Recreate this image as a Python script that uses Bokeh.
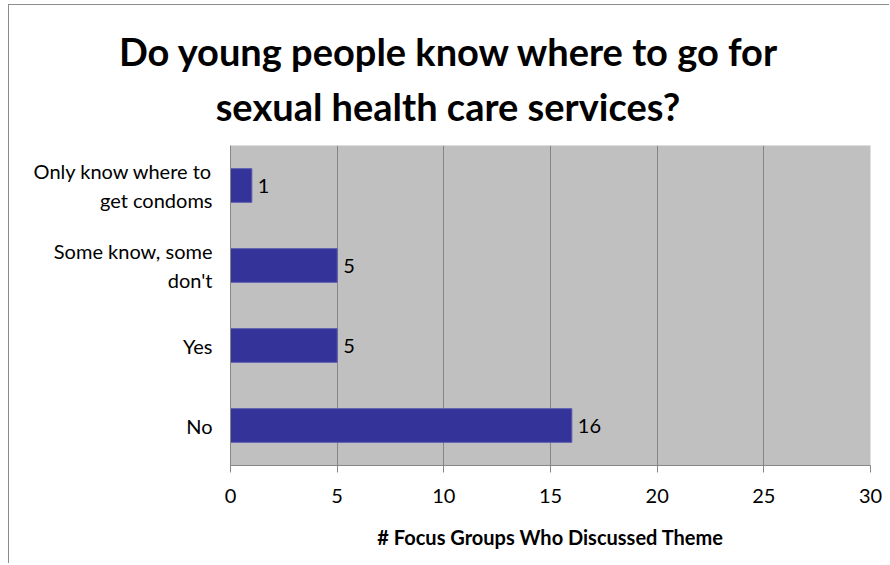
from bokeh.plotting import figure
from bokeh.layouts import column
from bokeh.models import (FactorRange, Range1d, FixedTicker, ColumnDataSource,
                          LabelSet, Div)
from bokeh.core.properties import value
from bokeh.embed import file_html
from bokeh.resources import INLINE

# ---- data ----
categories = ["No", "Yes", "Some know, some\ndon't", "Only know where to\nget condoms"]
counts = [16, 5, 5, 1]
x_ticks = [0, 5, 10, 15, 20, 25, 30]
title_lines = ["Do young people know where to go for", "sexual health care services?"]
x_title = "# Focus Groups Who Discussed Theme"

FONT = "Lato"
GRID = "#868686"
W = 880

# ---- title block ----
title_html = ('<div style="padding-top:19px;padding-left:22px;width:856px;'
              'text-align:center;line-height:55px;font-family:Lato;'
              'font-weight:bold;font-size:38px;color:black;">'
              + "<br>".join(title_lines) + '</div>')
title = Div(text=title_html, width=W, height=140, margin=0)

# ---- bar chart ----
src = ColumnDataSource(dict(cat=categories, val=counts,
                            lab=[str(v) for v in counts]))

p = figure(width=W, height=418, output_backend="svg", toolbar_location=None,
           y_range=FactorRange(factors=categories), x_range=Range1d(0, 30),
           min_border_left=221, min_border_right=19, min_border_top=0,
           min_border_bottom=98, tools="",
           background_fill_color="#C0C0C0", border_fill_color="white",
           outline_line_color=None)

p.hbar(y="cat", right="val", left=0, height=0.42, source=src,
       fill_color="#333399", line_color="#5858b0", line_width=1)

p.add_layout(LabelSet(x="val", y="cat", text="lab", source=src, x_offset=6,
                      text_baseline="middle", text_font=value(FONT),
                      text_font_size="20px", text_color="black"))

# axes
p.xaxis.ticker = FixedTicker(ticks=x_ticks)
p.xaxis.axis_line_color = GRID
p.xaxis.major_tick_line_color = GRID
p.xaxis.major_tick_in = 0
p.xaxis.major_tick_out = 7
p.xaxis.minor_tick_line_color = None
p.xaxis.major_label_text_font = FONT
p.xaxis.major_label_text_font_size = "20px"
p.xaxis.major_label_text_color = "black"
p.xaxis.major_label_standoff = 16
p.xaxis.axis_label = x_title
p.xaxis.axis_label_text_font = FONT
p.xaxis.axis_label_text_font_size = "20px"
p.xaxis.axis_label_text_font_style = "bold"
p.xaxis.axis_label_text_color = "black"
p.xaxis.axis_label_standoff = 19

p.yaxis.axis_line_color = GRID
p.yaxis.major_tick_line_color = None
p.yaxis.major_tick_out = 0
p.yaxis.major_tick_in = 0
p.yaxis.minor_tick_line_color = None
p.yaxis.major_label_text_font = FONT
p.yaxis.major_label_text_font_size = "20px"
p.yaxis.major_label_text_color = "black"
p.yaxis.major_label_text_align = "center"
p.yaxis.major_label_text_line_height = 1.2
p.yaxis.major_label_standoff = 18

p.xgrid.ticker = FixedTicker(ticks=x_ticks)
p.xgrid.grid_line_color = GRID
p.ygrid.grid_line_color = None

layout = column(title, p, spacing=0)
layout.styles = {"margin-left": "8px", "margin-top": "4px",
                 "border-top": "1px solid #8c8c8c",
                 "border-left": "1px solid #8c8c8c"}

open("out.html", "w").write(file_html(layout, INLINE))
